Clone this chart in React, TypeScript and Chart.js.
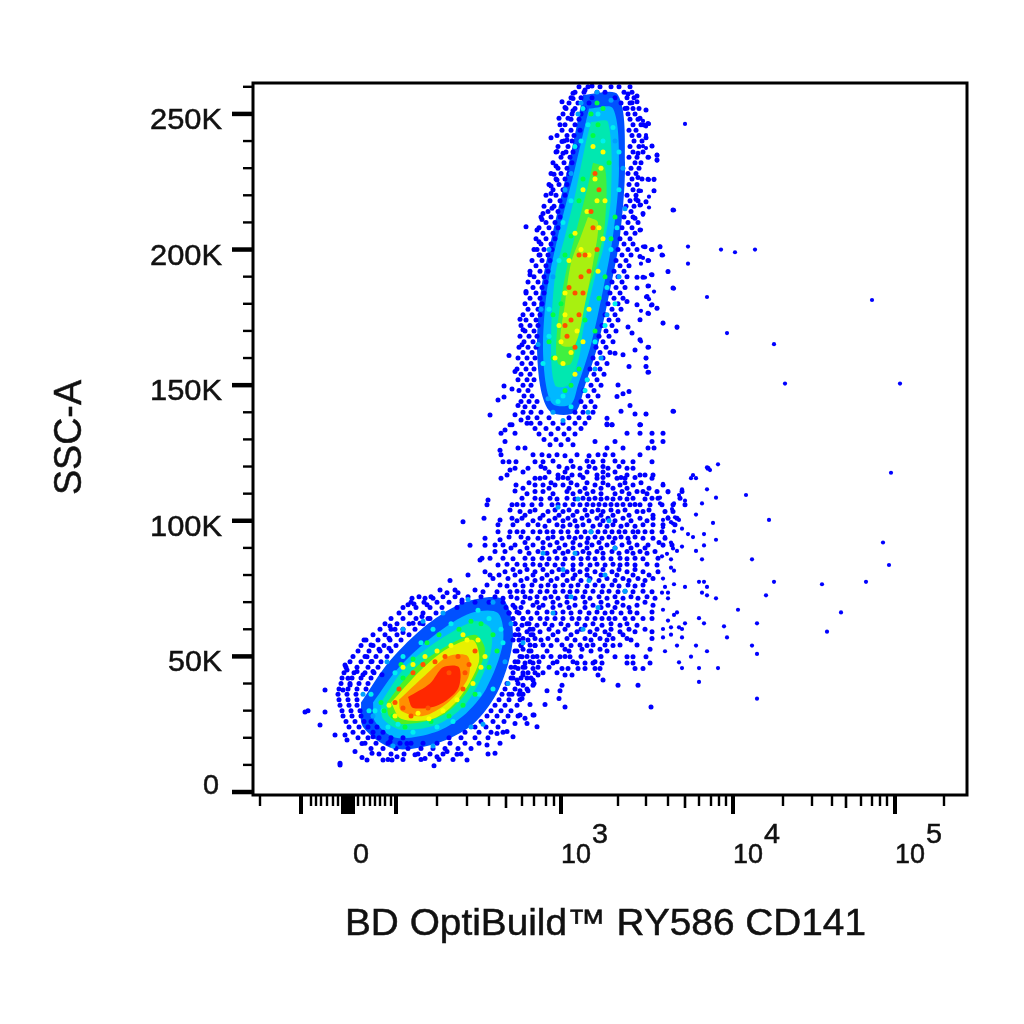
import React, { useEffect, useRef } from "react";
import { Chart, registerables } from "chart.js";
Chart.register(...registerables);

// x is the display channel of the biexponential axis, y is SSC-A in thousands.
const xRange = [0, 714];
const yRange = [-1.1, 261.4];

const xMajorTicks = [48, 90, 92, 94, 96, 98, 100, 143, 308, 480, 642];
const xMediumTicks = [253, 432, 593];
const xMinorTicks = [7, 58, 63, 68, 74, 80, 85, 105, 111, 117, 122, 127, 132, 138, 184, 214, 236, 269, 281, 293, 301, 365, 393, 415, 446, 458, 466, 473, 530, 559, 579, 608, 619, 627, 634, 691];
const yMajorTicks = [0, 50, 100, 150, 200, 250];
const yMinorTicks = [10, 20, 30, 40, 60, 70, 80, 90, 110, 120, 130, 140, 160, 170, 180, 190, 210, 220, 230, 240, 260];
const yTickLabels = ["0", "50K", "100K", "150K", "200K", "250K"];
const xTitle = "BD OptiBuild™ RY586 CD141";
const yTitle = "SSC-A";

// [y, x, x, ...] rows estimated from the sparse middle population
const middleRows: number[][] = [
  [135.4, 259, 354, 359, 387],
  [132.3, 248, 262, 374, 387, 399, 410],
  [129.2, 252, 342, 362, 399, 410],
  [126.8, 265, 272, 354, 370, 395, 401],
  [124.3, 248, 280, 289, 304, 324, 345, 352, 360, 387],
  [121.8, 250, 256, 263, 282, 290, 340, 370, 380, 399],
  [119.4, 262, 275, 292, 314, 327, 342, 355, 374, 380, 455],
  [116.9, 254, 305, 319, 327, 344, 355, 374, 387, 392, 400],
  [115.7, 248, 282, 287, 305, 315, 344, 364, 372, 399],
  [113.2, 263, 282, 290, 302, 310, 324, 342, 355, 367, 380, 410],
  [110.8, 282, 290, 314, 327, 340, 369, 384, 390, 404, 415, 429],
  [108.3, 269, 282, 297, 314, 330, 342, 354, 367, 380, 399, 405, 427],
  [105.9, 234, 259, 270, 279, 299, 312, 327, 340, 352, 364, 377, 387, 397, 409, 420, 432],
  [103.4, 267, 277, 295, 310, 324, 339, 350, 365, 384, 390, 412, 420],
  [100.9, 231, 259, 269, 287, 302, 315, 329, 344, 355, 370, 387, 400, 415, 424],
  [98.5, 245, 260, 275, 285, 304, 317, 330, 347, 360, 374, 390, 400, 410, 422],
  [96, 245, 257, 270, 287, 300, 315, 332, 345, 359, 372, 385, 399, 409],
  [93.6, 232, 275, 285, 295, 309, 322, 335, 349, 362, 375, 390, 400, 412],
  [91.1, 242, 250, 262, 280, 297, 312, 327, 339, 354, 369, 384, 395, 410, 419],
  [88.7, 242, 252, 267, 285, 302, 315, 330, 344, 359, 374, 387, 402],
  [86.2, 229, 237, 250, 272, 289, 304, 320, 335, 350, 367, 382, 405],
  [83.7, 245, 272, 287, 302, 320, 337, 352, 367, 382, 404],
  [81.2, 232, 252, 267, 282, 299, 314, 327, 342, 359, 374, 390, 405],
  [78.7, 240, 255, 274, 289, 304, 320, 337, 354, 370, 385, 400],
  [76.3, 234, 247, 262, 279, 295, 310, 325, 342, 359, 375, 390],
  [73.8, 230, 244, 257, 270, 287, 302, 317, 332, 349, 365, 380, 399],
  [71.4, 250, 264, 277, 292, 305, 322, 337, 354, 370, 385, 402],
  [68.9, 260, 280, 290, 307, 322, 340, 355, 370, 384, 400],
  [66.4, 264, 275, 294, 310, 327, 344, 359, 377, 399],
  [64, 270, 287, 302, 319, 334, 349, 362, 380, 399],
  [61.5, 269, 284, 299, 315, 332, 349, 367, 384],
  [59.1, 274, 287, 305, 324, 337, 352, 367, 382, 399],
  [56.6, 270, 282, 295, 314, 332, 347, 360, 374, 399],
  [54.2, 277, 290, 309, 327, 340, 352, 367, 384],
  [52.6, 270, 312, 329, 347, 397],
  [49.9, 269, 280, 290, 307, 317, 362, 374, 380, 393],
  [47.6, 272, 280, 300, 324, 332, 340, 349, 374, 380, 397],
  [45.5, 265, 280, 309, 315, 325, 332, 342, 347, 382, 390],
  [43.1, 270, 285, 312, 319, 345],
  [41.3, 264, 280, 350],
  [39.4, 270, 280, 309, 365, 385],
  [37.3, 267, 275, 294, 307],
  [34.5, 269, 306],
  [32.3, 277, 292],
  [31.3, 312, 398],
  [28.4, 267, 281],
];
const middleFillRows: number[][] = [
  [124, 296, 312, 336],
  [122, 300, 318, 334, 350, 362],
  [120, 288, 306, 320, 336, 350, 366],
  [118, 270, 296, 312, 334, 350, 362],
  [116, 292, 310, 330, 350, 368, 382],
  [114, 276, 298, 318, 334, 350, 372, 388],
  [112, 270, 296, 316, 332, 348, 360, 374, 396],
  [110, 274, 300, 320, 334, 348, 362, 376, 394],
  [108, 288, 304, 322, 336, 348, 360, 374, 392],
  [106, 264, 288, 305, 320, 334, 346, 358, 370, 382],
  [104, 282, 302, 316, 332, 345, 358, 372, 396],
  [102, 272, 290, 306, 320, 334, 348, 360, 376, 400],
  [100, 264, 280, 296, 310, 322, 336, 350, 362, 378, 394],
  [98, 292, 310, 324, 340, 354, 368, 382],
  [96, 264, 280, 294, 308, 324, 338, 352, 366, 380, 392],
  [94, 256, 268, 300, 316, 328, 342, 356, 368, 382],
  [92, 272, 290, 304, 320, 334, 346, 360, 376, 406],
  [90, 258, 274, 290, 306, 320, 334, 348, 362, 378, 392],
  [88, 276, 294, 310, 324, 336, 350, 366, 380, 394],
  [86, 260, 280, 296, 312, 328, 342, 358, 374, 390],
  [84, 254, 264, 280, 294, 310, 328, 344, 360, 374, 394],
  [82, 260, 274, 290, 306, 320, 334, 350, 366, 382],
  [80, 246, 262, 280, 294, 310, 322, 334, 348, 364, 380, 396],
  [78, 268, 282, 298, 314, 328, 346, 362, 376, 392],
  [76, 254, 270, 288, 302, 318, 334, 350, 366, 382],
  [74, 264, 278, 294, 310, 324, 340, 356, 372, 390],
  [72, 258, 272, 284, 298, 314, 330, 346, 362, 378, 394],
  [70, 270, 284, 300, 314, 332, 348, 364, 392],
  [68, 268, 286, 300, 316, 332, 348, 362, 376],
  [66, 256, 284, 302, 318, 336, 352, 368, 384],
  [64, 278, 294, 310, 326, 342, 356, 372, 390],
  [62, 262, 276, 292, 308, 324, 340, 358, 374],
  [60, 280, 296, 312, 328, 344, 358, 376, 392],
  [58, 266, 278, 300, 318, 342, 356, 370],
  [56, 260, 288, 304, 322, 338, 354, 378],
  [54, 268, 282, 298, 318, 334, 360],
  [52, 262, 278, 294, 316, 338, 354],
  [50, 274, 298, 312, 328, 348],
  [48, 262, 286, 304, 320, 342],
  [46, 258, 270, 296],
  [44, 275, 290, 304],
  [42, 260, 274],
  [36, 256, 266],
];
const upperRingRows: number[][] = [
  [260, 326, 335, 347, 358, 366, 377],
  [258, 322, 331, 344, 352, 371, 379],
  [256, 318, 328, 339, 362, 374, 381],
  [254, 316, 325, 336, 368, 377],
  [252, 313, 322, 331, 372, 380, 386],
  [250, 310, 319, 328, 375, 382],
  [248, 318, 326, 377, 385],
  [246, 307, 312, 322, 380, 388],
  [244, 309, 318, 327, 376, 383],
  [242, 304, 314, 321, 379, 386],
  [240, 311, 319, 381, 389],
  [238, 305, 315, 323, 377, 386],
  [236, 303, 313, 320, 380, 390],
  [234, 308, 317, 376, 384],
  [232, 300, 311, 319, 382, 388],
  [230, 305, 314, 378, 386],
  [228, 298, 308, 316, 375, 383],
  [226, 303, 312, 379, 389],
  [224, 296, 306, 314, 376, 384],
  [222, 300, 310, 380],
  [220, 293, 303, 312, 374, 383],
  [218, 297, 307, 377, 385],
  [216, 291, 301, 309, 373, 381],
  [214, 295, 305, 378],
  [212, 288, 298, 307, 371, 380],
  [210, 293, 302, 375, 385],
  [208, 286, 296, 305, 369, 379],
  [206, 290, 300, 373, 382],
  [204, 283, 293, 302, 367, 377],
  [202, 288, 298, 371, 380],
  [200, 281, 291, 299, 365, 375, 384],
  [198, 286, 295, 369, 378],
  [196, 279, 289, 297, 363, 373],
  [194, 283, 293, 367, 376],
  [192, 277, 287, 295, 361, 371],
  [190, 281, 291, 365, 374],
  [188, 275, 285, 293, 359, 369],
  [186, 280, 289, 363, 372],
  [184, 273, 283, 291, 357, 367],
  [182, 277, 287, 361, 370],
  [180, 272, 281, 289, 355, 365],
  [178, 275, 285, 359, 368],
  [176, 270, 279, 287, 352, 362],
  [174, 273, 283, 356, 365],
  [172, 268, 277, 285, 349, 359],
  [170, 272, 281, 353, 363],
  [168, 267, 276, 284, 346, 356],
  [166, 271, 280, 350, 360],
  [164, 266, 275, 283, 343, 353],
  [162, 270, 279, 347, 357],
  [160, 265, 274, 282, 340, 350],
  [158, 269, 278, 344, 354],
  [156, 264, 273, 281, 337, 347],
  [154, 268, 277, 341, 351],
  [152, 265, 274, 281, 334, 344],
  [150, 270, 278, 338, 348],
  [148, 266, 275, 331, 341],
  [146, 271, 279, 335, 345],
  [144, 268, 276, 284, 328, 338],
  [142, 272, 281, 332, 342],
  [140, 270, 278, 288, 322, 330, 340],
  [138, 275, 284, 296, 316, 326, 336],
  [136, 278, 287, 300, 310, 322, 332],
  [134, 282, 293, 305, 316, 328],
  [132, 286, 298, 311, 322],
  [130, 291, 303, 315],
  [128, 297, 308, 320],
];
const lowerRingRows: number[][] = [
  [72, 166, 178, 190, 202, 215, 228, 242],
  [70, 158, 171, 184, 196, 209, 222, 236, 250],
  [68, 150, 163, 177, 189, 204, 253, 262],
  [66, 146, 157, 170, 183, 256, 266],
  [64, 138, 150, 163, 175, 260, 270],
  [62, 132, 144, 156, 170, 262, 274],
  [60, 127, 138, 150, 162, 265, 277],
  [58, 120, 132, 144, 156, 262, 280],
  [56, 113, 125, 137, 148, 266, 275],
  [54, 108, 120, 131, 143, 268, 282],
  [52, 105, 116, 127, 138, 264, 276],
  [50, 100, 112, 123, 134, 267, 284],
  [48, 97, 108, 118, 128, 265, 277],
  [46, 93, 104, 115, 125, 262, 272, 285],
  [44, 91, 101, 112, 121, 260, 270, 282],
  [42, 89, 99, 108, 118, 258, 268, 278],
  [40, 88, 97, 106, 115, 254, 265, 281],
  [38, 86, 95, 104, 113, 252, 262, 274],
  [36, 85, 94, 103, 249, 259, 270],
  [34, 86, 95, 104, 246, 256, 267],
  [32, 87, 96, 104, 242, 252, 264],
  [30, 89, 98, 107, 238, 248, 258],
  [28, 90, 99, 108, 234, 244, 255, 265],
  [26, 93, 102, 111, 118, 228, 240, 251],
  [24, 96, 106, 115, 124, 222, 233, 245],
  [22, 100, 110, 120, 130, 212, 226, 238, 250],
  [20, 105, 115, 126, 138, 150, 196, 208, 222, 235],
  [18, 112, 123, 135, 147, 158, 170, 184, 197, 212, 226],
  [16, 118, 130, 143, 155, 168, 180, 192, 205, 218],
  [14, 126, 138, 151, 165, 177, 190, 208],
  [12, 135, 150, 168, 186, 200],
];

// flat x,y pairs
const rightOutliers = [
  432,246.3, 396,246.3, 393,245.4, 390,247.4, 393,242.2, 399,238.1, 390,238.1, 393,237.4, 404,235, 404,232.8, 396,234, 396,225.7, 401,225.7, 401,221.6, 396,219.5, 393,217.5, 396,215.5, 421,214.5, 390,212.8, 388,221.6, 388,216.5, 388,207.3, 390,201.1, 398,200, 407,201.1, 435,201.1, 468,200, 482,199, 502,200, 410,197.9, 390,196.9, 396,195.9, 388,194.8, 435,194.8, 415,191.8, 398,190.8, 392,189.7, 396,186.6, 421,185.6, 401,184.5, 454,182.5, 393,182.5, 396,181.7, 619,181.4, 398,179.4, 404,178.4, 396,176.3, 388,177.4, 410,172.8, 424,171.2, 474,169.2, 388,166.1, 396,164, 521,165.1, 393,159.9, 393,156.9, 396,154.8, 532,150.6, 647,150.6, 421,140.3, 393,139.3, 388,135.4,
  465,120.8, 454,119.7, 457,118.7, 638,117.7, 440,116.8, 438,115.7, 443,115.7, 410,113.6, 454,111.6, 429,111.6, 415,110.5, 426,109.5, 493,109.5, 463,108.5, 407,108.5, 432,107.4, 421,106.4, 449,106.4, 407,106.4, 419,104.3, 412,103.4, 443,102.3, 415,101.3, 422,101.3, 410,100.3, 426,100.3, 516,100.3, 418,99.5, 420,99, 460,99.2, 410,97.6, 429,97.1, 421,96.1, 435,95.1, 451,95.1, 440,94, 412,94, 463,93, 630,92, 418,92, 410,90.9, 451,90.9, 429,90.5, 420,89.8, 424,88.9, 443,88.9, 414,87.8, 409,86.9, 418,85.8, 449,85.8, 499,85.8, 636,83.7, 418,82.7, 421,81.6, 410,78.7, 446,77.5, 451,77.5, 521,77.5, 569,76.6, 613,77.5, 421,76.6, 412,75.6, 432,75.6, 454,75.6, 415,73.5, 409,73.5, 449,73.5, 454,72.5, 463,71.4, 513,72.5, 415,71.4, 410,67.2, 485,67.2, 424,66.2, 421,65.3, 588,66.2, 446,64.1, 415,63.2, 432,62.2, 451,62.2, 504,62.2, 418,60.7, 426,60.7, 429,60.1, 410,60.1, 471,61.1, 574,59.1, 410,57, 418,58, 429,57, 474,57, 424,54, 443,54, 499,54, 412,51.9, 454,51.9, 504,50.9, 438,49.9, 426,47.8, 429,45.7, 446,45.7, 465,45.7, 446,40.6, 504,34.4,
];
const upperEdge = [
  309,254.5, 312,252.4, 320,257.6, 320,255.7, 332,258.8, 339,260.3, 306,248.4, 315,248.4, 320,251.2, 375,257.3, 384,256.6, 379,254.1, 384,254.5, 374,252.1, 393,251.4, 387,248.4, 395,246.5, 391,245.9, 298,241.2, 309,239.8, 314,240.4, 393,241.2, 399,238.2, 404,234.8, 404,233, 395,234, 385,235.5, 304,236.1, 310,235.5, 303,230.8, 301,227.8, 385,226.6, 395,225.9, 401,225.9, 386,221.7, 401,221.7, 298,223.4, 304,225.6, 298,220.7, 383,218.5, 387,216.4, 393,217.6, 420,214.6, 299,215.2, 290,213.3, 289,211.1, 273,208.4, 284,207.2, 387,207.2, 390,213.3, 382,211.5, 392,201, 407,201, 399,200, 409,198, 286,202.9, 284,200, 287,198, 387,197.4,
  395,196, 415,191.9, 399,190.7, 384,189.8, 390,189.8, 420,185.8, 384,185.8, 395,186.6, 394,182.7, 399,179.6, 374,180.8, 384,179.6, 404,178.4, 395,176.5, 387,174.1, 410,172.9, 424,171.4, 375,171.4, 379,169.2, 387,166.7, 395,164, 382,163, 393,160, 370,161.2, 362,161.8, 393,156.9, 376,156.9, 395,154.8, 256,160.9, 267,174.3, 270,170.4, 273,184.5, 277,190.7, 269,164.9, 262,155, 251,149.7, 259,148.6, 251,145.6, 365,150.1, 370,146.8, 376,147.7, 364,145.8, 377,142.5, 368,140.4, 382,139.4, 393,139.4, 420,140.4, 354,137.8, 359,135.4, 387,135.4, 354,135.7, 265,142.5, 262,139.1, 257,135.4, 274,136, 268,137.2,
];
const lowerEdge = [
  159,71.4, 155,69, 161,69.3, 174,69, 172,71.4, 180,71.4, 194,73.5, 205,73.5, 137,61.2, 150,58.8, 142,60, 136,56.7, 111,56, 118,54.2, 126,52.6, 136,53, 114,49.9, 119,48.1, 92,46.8, 94,45, 95,41.9, 97,39.5, 90,37.6, 104,44.4, 110,43.2, 120,44.4, 129,43.2, 167,62.2, 160,62.2, 177,64, 169,64.7,
  102,14.9, 109,12.7, 114,11.8, 119,14.3, 130,11.8, 139,11.8, 144,13, 162,13.7, 172,12.4, 181,9.7, 184,13, 194,14.9, 204,13.9, 214,11.8, 235,14, 242,14.3, 262,25.3, 274,25.3, 284,24.1, 272,27.2, 280,28.4, 244,21.6, 254,22.3, 260,20.4, 247,18, 234,17.3, 87,10.6, 92,21, 94,19.2, 109,17.9, 120,20.4, 137,18.6, 154,17.9, 55,30, 72,37.6, 72,29.5, 87,10, 82,21, 67,24.7, 52,29.5,
  210,99.6, 235,107.7, 247,100.3, 217,91, 232,91, 197,78, 215,80, 227,85.5, 247,93, 187,74.5, 202,74.5, 209,70.8, 237,80, 222,74.5, 257,104, 237,139, 245,144.5, 252,133.5, 257,118.7, 247,126, 262,111,
];
const azureSpecks = [
  305,105, 322,88, 338,96, 352,80, 318,72, 345,68, 330,60, 362,90, 310,82, 372,74, 300,66, 336,78, 356,100, 325,108, 290,88,
  300,190, 318,228, 325,250, 362,240, 372,215, 366,190, 348,160, 285,165, 295,145, 335,140, 270,55, 255,40, 230,25, 120,28, 150,60, 190,66, 240,70,
  328,254, 344,258, 358,255, 370,230, 312,222, 296,200, 288,178, 354,176, 342,156, 300,140, 310,137, 110,36, 134,48, 170,63, 215,71, 258,62, 252,48, 218,24, 180,17, 140,17,
];
const cyanSpecks = [
  310,210, 322,238, 330,252, 366,222, 352,172, 334,152, 296,178, 290,158, 305,144, 318,142, 358,200, 362,180, 345,250, 360,245,
  130,30, 150,50, 180,60, 225,67, 250,55, 240,38, 200,26, 160,22, 118,36, 145,25,
  335,246, 328,240, 318,218, 306,196, 296,168, 350,240, 366,236, 364,208, 354,186, 342,166, 332,148, 310,146,
  122,30, 142,44, 168,55, 198,62, 236,64, 248,60, 226,36, 184,24, 135,24, 116,30,
];
const greenSpecks = [
  345,246, 330,226, 318,205, 308,180, 300,160, 312,148, 356,232, 362,212, 352,190, 342,170, 326,156, 340,242,
  140,28, 128,33, 160,49, 186,58, 218,63, 240,58, 236,46, 210,32, 178,26, 150,42,
  350,252, 338,250, 326,218, 312,198, 300,176, 296,166, 318,150, 346,182, 358,204, 344,254, 332,174,
  131,30, 148,47, 174,55, 206,60, 228,62, 244,52, 222,36, 196,28, 152,24,
];
const yellowSpecks = [
  348,230, 352,218, 342,226, 334,214, 346,208, 328,200, 312,176, 318,162, 308,166, 336,178, 350,204, 316,196, 345,192, 330,166, 322,154,
  136,32, 150,46, 172,50, 198,54, 225,56, 232,50, 220,40, 190,30, 165,29, 210,58,
  340,238, 350,236, 330,222, 322,206, 312,184, 306,172, 324,170, 310,158, 336,198, 344,218, 302,160,
  142,28, 160,47, 184,52, 214,56, 228,46, 204,34, 176,27,
];
const orangeSpecks = [
  340,208, 332,198, 344,200, 322,184, 328,190, 318,174, 326,176, 336,192, 314,168, 322,164,
  142,33, 160,44, 182,48, 205,50, 216,47, 210,38, 175,31, 150,31, 196,44,
  338,214, 326,198, 316,186, 312,172, 330,184, 342,228, 346,222,
  146,38, 170,47, 222,52, 192,50, 212,44, 158,28,
];

// density contours, flat x,y pairs, each closed
const upperAzure = [330,257, 365,257, 372,232, 367,205, 357,185, 345,165, 332,150, 322,140, 298,140, 288,148, 284,165, 288,185, 299,205, 316,232, 330,257];
const upperCyan = [336,252, 360,252, 366,230, 360,205, 350,185, 338,165, 325,150, 318,143, 300,143, 293,150, 290,165, 294,185, 305,205, 322,230, 336,252];
const upperSpring = [338,247, 355,247, 358,220, 350,200, 342,190, 330,170, 326,160, 315,150, 302,150, 298,165, 302,190, 312,205, 322,220, 332,238, 338,247];
const upperLime = [340,232, 352,230, 352,210, 344,195, 335,185, 325,170, 318,158, 305,158, 304,170, 312,190, 322,205, 334,222, 340,232];
const upperYellow = [335,212, 345,210, 340,195, 332,180, 322,165, 308,165, 312,180, 318,195, 328,205, 335,212];
const lowerAzure = [108,33, 136,48, 175,62, 212,70, 250,71, 260,57, 246,38, 220,25, 184,18, 141,16, 110,24, 108,33];
const lowerCyan = [120,33, 146,46, 182,58, 218,66, 245,66, 250,55, 233,38, 210,28, 182,22, 143,20, 122,26, 120,33];
const lowerSpring = [128,33, 152,46, 186,56, 222,63, 238,60, 236,49, 214,33, 185,25, 148,23, 130,27, 128,33];
const lowerLime = [134,33, 160,45, 190,53, 222,58, 232,52, 214,37, 188,28, 150,25, 136,28, 134,33];
const lowerYellow = [138,33, 168,45, 195,53, 220,56, 226,48, 205,34, 180,27, 148,27, 138,33];
const lowerOrange = [146,34, 172,43, 195,50, 215,50, 215,42, 195,33, 170,28, 148,30, 146,34];
const lowerRed = [155,35, 177,40, 190,46, 206,46, 205,38, 185,32, 160,31, 155,35];

const pairs = (flat: number[]) => {
  const out: { x: number; y: number }[] = [];
  for (let i = 0; i < flat.length; i += 2) out.push({ x: flat[i], y: flat[i + 1] });
  return out;
};
const fromRows = (rows: number[][]) => rows.flatMap(([y, ...xs]) => xs.map((x) => ({ x, y })));

const band = (flat: number[], color: string, order: number) => ({
  data: pairs(flat),
  showLine: true,
  fill: "shape",
  backgroundColor: color,
  borderWidth: 0,
  borderColor: "rgba(0,0,0,0)",
  pointRadius: 0,
  tension: 0.3,
  order,
});

const dots = (data: { x: number; y: number }[], color: string, order: number, radius = 2.5) => ({
  data,
  showLine: false,
  backgroundColor: color,
  borderWidth: 0,
  pointRadius: radius,
  pointStyle: "circle",
  order,
});

const drawLabel = (
  ctx: CanvasRenderingContext2D,
  text: string,
  x: number,
  y: number,
  size: number,
  width: number,
  rotate = false
) => {
  ctx.save();
  ctx.font = `${size}px "Liberation Sans", Arial, sans-serif`;
  ctx.fillStyle = "#111";
  ctx.strokeStyle = "#111";
  ctx.lineWidth = 0.5;
  ctx.textBaseline = "alphabetic";
  ctx.textAlign = "left";
  const sx = width / ctx.measureText(text).width;
  ctx.translate(x, y);
  if (rotate) ctx.rotate(-Math.PI / 2);
  ctx.scale(sx, 1);
  ctx.fillText(text, 0, 0);
  ctx.strokeText(text, 0, 0);
  ctx.restore();
};

const axesPlugin = {
  id: "flowAxes",
  afterDraw(chart: any) {
    const { ctx, chartArea: a, scales } = chart;
    const X = scales.x;
    const Y = scales.y;
    ctx.save();
    ctx.strokeStyle = "#000";
    ctx.lineWidth = 3;
    ctx.strokeRect(a.left, a.top, a.right - a.left, a.bottom - a.top);
    const xTick = (v: number, len: number, w: number) => {
      const p = X.getPixelForValue(v);
      ctx.lineWidth = w;
      ctx.beginPath();
      ctx.moveTo(p, a.bottom);
      ctx.lineTo(p, a.bottom + len);
      ctx.stroke();
    };
    xMinorTicks.forEach((v) => xTick(v, 11, 2.4));
    xMediumTicks.forEach((v) => xTick(v, 13, 2.6));
    xMajorTicks.forEach((v) => xTick(v, 19, 4));
    const yTick = (v: number, len: number, w: number) => {
      const p = Y.getPixelForValue(v);
      ctx.lineWidth = w;
      ctx.beginPath();
      ctx.moveTo(a.left, p);
      ctx.lineTo(a.left - len, p);
      ctx.stroke();
    };
    yMinorTicks.forEach((v) => yTick(v, 10, 2.4));
    yMajorTicks.forEach((v) => yTick(v, 21, 4.5));
    ctx.restore();

    yMajorTicks.forEach((v, i) => {
      const p = Y.getPixelForValue(v);
      const t = yTickLabels[i];
      if (i === 0) drawLabel(ctx, t, 203, p + 2, 28, 16);
      else {
        const w = t.length === 4 ? 72 : 54;
        drawLabel(ctx, t, 222 - w, p + 15, 29, w);
      }
    });
    const xBase = 863;
    drawLabel(ctx, "0", 353, xBase, 28, 16);
    [
      [308, "3"],
      [480, "4"],
      [642, "5"],
    ].forEach(([v, e]) => {
      const p = X.getPixelForValue(v as number);
      drawLabel(ctx, "10", p, xBase, 28, 30);
      drawLabel(ctx, e as string, p + 31, 843, 28, 16);
    });
    drawLabel(ctx, xTitle, 345, 935, 37, 521);
    drawLabel(ctx, yTitle, 81, 495, 38, 115, true);
  },
};

export default function App() {
  const ref = useRef<HTMLCanvasElement>(null);
  useEffect(() => {
    if (!ref.current) return;
    const chart = new Chart(ref.current, {
      type: "scatter",
      data: {
        datasets: [
          band(upperAzure, "#0050ff", 29),
          band(lowerAzure, "#0050ff", 29),
          band(upperCyan, "#00b8ff", 28),
          band(lowerCyan, "#00b8ff", 28),
          band(upperSpring, "#00e8b0", 27),
          band(lowerSpring, "#00e8b0", 27),
          band(upperLime, "#40f040", 26),
          band(lowerLime, "#50f020", 26),
          band(upperYellow, "#a8f010", 25),
          band(lowerYellow, "#e8f000", 25),
          band(lowerOrange, "#ff9000", 24),
          band(lowerRed, "#ff2800", 23),
          dots(fromRows(middleRows), "#0000ff", 10),
          dots(fromRows(middleFillRows), "#0000ff", 10),
          dots(fromRows(upperRingRows), "#0000ff", 10),
          dots(fromRows(lowerRingRows), "#0000ff", 10),
          dots(pairs(rightOutliers), "#0000ff", 10, 2.1),
          dots(pairs(upperEdge), "#0000ff", 10),
          dots(pairs(lowerEdge), "#0000ff", 10),
          dots(pairs(azureSpecks), "#00a0ff", 9),
          dots(pairs(cyanSpecks), "#00f0f0", 8),
          dots(pairs(greenSpecks), "#00ff40", 7),
          dots(pairs(yellowSpecks), "#ffff00", 6),
          dots(pairs(orangeSpecks), "#ff5000", 5),
        ] as any,
      },
      options: {
        responsive: false,
        animation: false,
        devicePixelRatio: 1,
        layout: { padding: { left: 0, right: 57, top: 83, bottom: 0 } },
        plugins: {
          legend: { display: false },
          tooltip: { enabled: false },
          title: { display: false },
          filler: { propagate: false },
        },
        scales: {
          x: {
            type: "linear",
            min: xRange[0],
            max: xRange[1],
            grid: { display: false },
            border: { display: false },
            ticks: { display: false },
            afterFit: (s: any) => {
              s.height = 229;
            },
          },
          y: {
            type: "linear",
            min: yRange[0],
            max: yRange[1],
            grid: { display: false },
            border: { display: false },
            ticks: { display: false },
            afterFit: (s: any) => {
              s.width = 253;
            },
          },
        },
      } as any,
      plugins: [axesPlugin],
    });
    return () => chart.destroy();
  }, []);
  return (
    <div style={{ position: "fixed", left: 0, top: 0, width: 1024, height: 1024, background: "#fff" }}>
      <canvas ref={ref} width={1024} height={1024} style={{ display: "block", filter: "blur(0.4px)" }} />
    </div>
  );
}
